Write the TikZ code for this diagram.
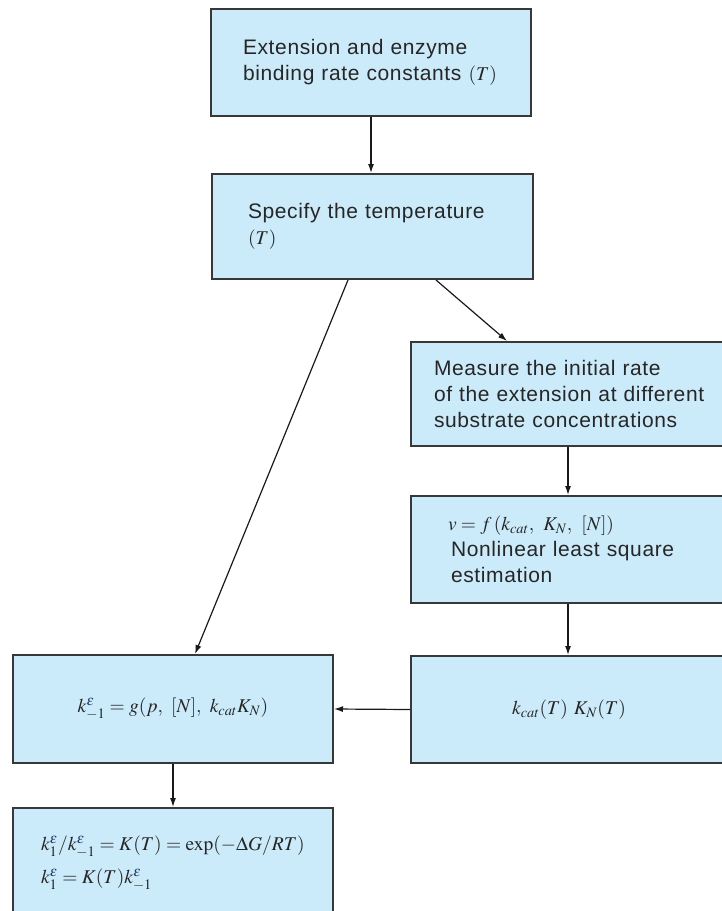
\documentclass[tikz,border=0pt]{standalone}
\usepackage{mathptmx}
\usepackage[no-math]{fontspec}
\setsansfont[LetterSpace=3]{Liberation Sans}
\usetikzlibrary{arrows.meta,calc}
\definecolor{boxfill}{HTML}{CCEBFA}
\definecolor{boxline}{HTML}{383838}
\definecolor{txt}{HTML}{262626}
\definecolor{epscol}{HTML}{243A6A}
\newcommand{\eps}{{\color{epscol}\varepsilon}}
\newcommand{\mth}[1]{{\fontsize{19.5}{26}\selectfont$#1$}}
\tikzset{
  box/.style={draw=boxline, line width=2pt, fill=boxfill, align=left, anchor=north west,
    inner ysep=0pt, text=txt, font=\sffamily\fontsize{21}{26}\selectfont},
  arr/.style={draw=black!90, line width=1.2pt, -{Latex[length=9pt,width=6pt]}}
}
\begin{document}
\begin{tikzpicture}[x=1pt,y=-1pt]
\useasboundingbox (0,0) rectangle (722,911);
\clip (0,0) rectangle (722,911);
\node[box, minimum width=320, minimum height=107, text width=256, inner xsep=32] (b1) at (210,8)
  {Extension and enzyme\\binding rate constants \mth{(T)}};
\node[box, minimum width=321, minimum height=105, text width=249, inner xsep=36] (b2) at (211,173)
  {Specify the temperature\\\mth{(T)}};
\node[box, minimum width=316, minimum height=104, text width=270, inner xsep=23] (b3) at (410,341)
  {Measure the initial rate\\of the extension at different\\substrate concentrations};
\node[box, minimum width=316, minimum height=107, text width=242, inner xsep=37] (b4) at (410,495)
  {\mth{v = f\,(k_{cat},\ K_N,\ [N])}\\\hspace*{3pt}Nonlinear least square\\\hspace*{3pt}estimation};
\node[box, align=center, minimum width=316, minimum height=107] (b5) at (410,655)
  {\mth{k_{cat}(T)\ K_N(T)}};
\node[box, align=center, minimum width=320, minimum height=108] (b6) at (12,654)
  {\mth{k^{\eps}_{-1} = g(p,\ [N],\ k_{cat}K_N)}};
\node[box, minimum width=320, minimum height=110, text width=264, inner xsep=28,
  font=\sffamily\fontsize{19.5}{24}\selectfont] (b7) at (12,807)
  {\mth{k^{\eps}_{1}/k^{\eps}_{-1} = K(T) = \exp(-\Delta G/RT)}\\[9pt]\mth{k^{\eps}_{1} = K(T)k^{\eps}_{-1}}};
\draw[arr] (b1.south) -- (b1.south |- b2.north);
\draw[arr] ([xshift=137pt]b2.south west) -- ([xshift=183pt]b6.north west);
\draw[arr] ([xshift=225pt]b2.south west) -- ([xshift=97pt]b3.north west);
\draw[arr] ([xshift=158pt]b3.south west) -- ([xshift=158pt]b4.north west);
\draw[arr] ([xshift=158pt]b4.south west) -- ([xshift=158pt]b5.north west);
\draw[arr] (b5.west) -- (b6.east);
\draw[arr] ([xshift=161pt]b6.south west) -- ([xshift=161pt]b7.north west);
\end{tikzpicture}
\end{document}
